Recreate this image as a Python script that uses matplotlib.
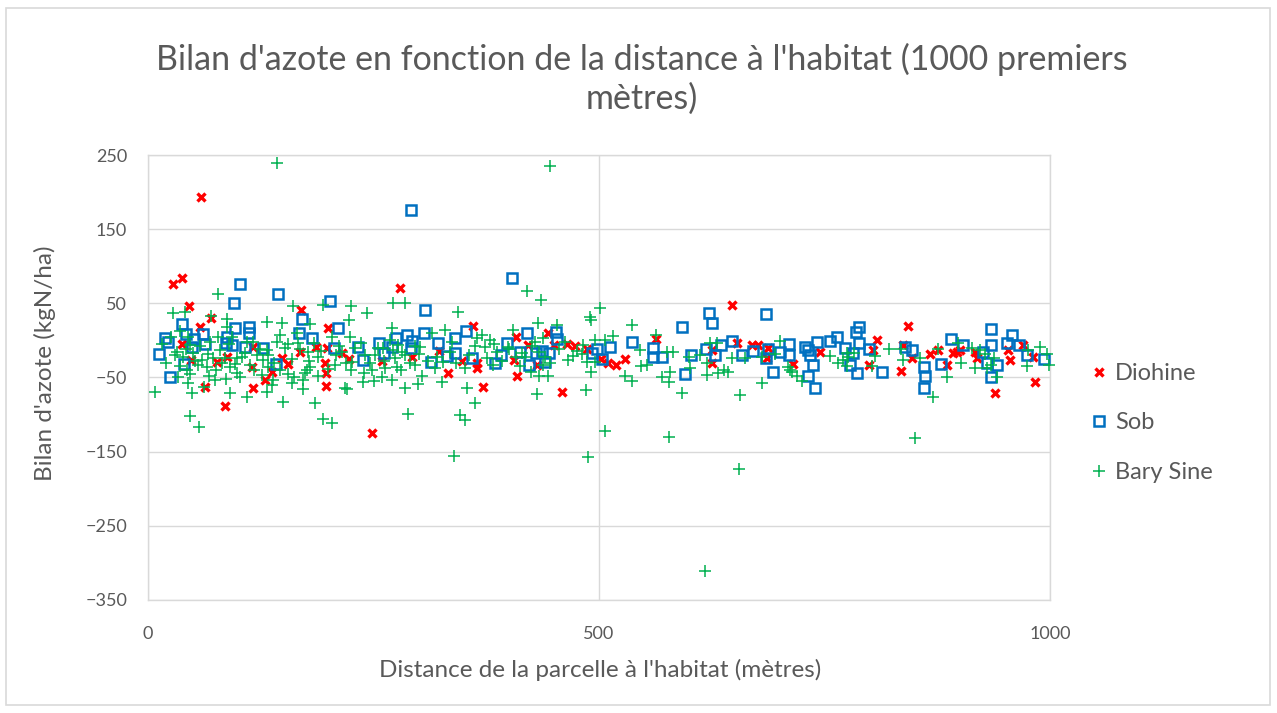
import matplotlib
matplotlib.use("Agg")
import matplotlib.pyplot as plt
from matplotlib.patches import Rectangle

plt.rcParams['font.family'] = ['Lato', 'DejaVu Sans']

title = "Bilan d'azote en fonction de la distance à l'habitat (1000 premiers\nmètres)"
xlabel = "Distance de la parcelle à l'habitat (mètres)"
ylabel = "Bilan d'azote (kgN/ha)"
series_names = ["Diohine", "Sob", "Bary Sine"]
xticks = [0, 500, 1000]
yticks = [250, 150, 50, -50, -150, -250, -350]

diohine = [(28,76),(38,84),(59,193),(46,47),(70,30),(58,18),(38,-5),(48,-26),(63,-63),(85,-88),
           (116,-64),(130,-53),(115,-36),(116,-9),(77,-29),(88,-22),
           (170,41),(200,17),(186,-9),(169,-16),(155,-32),(149,-24),(138,-43),(196,-30),(197,-44),
           (197,-61),(215,-17),(223,-25),(259,-28),(248,-125),(198,-10),
           (279,71),(360,20),(323,-14),(293,-22),(333,-44),(348,-28),(365,-30),(365,-37),(371,-63),
           (406,-26),(409,-48),(408,5),
           (421,-6),(431,-33),(444,10),(450,-6),(465,-5),(473,-7),(487,-12),(502,-25),(510,-30),
           (519,-33),(529,-25),(459,-69),
           (648,48),(563,2),(625,-13),(625,-30),(653,-3),(670,-6),(676,-6),(687,-10),(686,-24),
           (715,-32),(745,-16),
           (808,1),(799,-33),(843,20),(835,-41),(837,-6),(847,-24),(867,-18),(876,-13),(886,-33),
           (893,-17),(897,-16),(900,-13),(917,-16),(919,-24),(939,-71),(956,-26),(953,-13),(970,-6),
           (983,-56),(981,-22),(804,-13)]
diohine_x = [p[0] for p in diohine]
diohine_y = [p[1] for p in diohine]

sob = [(102,76),(95,50),(38,22),(42,9),(19,3),(22,-2),(12,-18),(24,-50),(40,-32),(51,2),(61,9),
       (63,-5),(49,-9),(96,17),(112,18),(112,10),(88,5),(86,-3),(93,-6),(108,-9),(127,-10),
       (144,63),(142,-32),(171,29),(202,53),(211,17),(167,10),(182,3),(206,-10),(233,-9),(238,-26),
       (256,-3),(262,-17),(271,-9),(275,3),
       (292,176),(307,41),(287,7),(293,-1),(292,-10),(306,10),(321,-3),(314,-29),(331,-21),(340,-17),
       (340,3),(353,13),(359,-24),(385,-30),(391,-20),(398,-3),(404,84),(412,-16),
       (420,10),(422,-33),(430,-17),(437,-14),(440,-29),(445,-17),(452,12),(453,2),(492,-17),
       (498,-12),(503,-25),(512,-9),(537,-2),
       (560,-10),(560,-22),(570,-22),(592,18),(595,-45),(602,-20),(622,37),(625,24),(619,-12),
       (629,-20),(635,-6),(647,-1),(659,-20),(671,-14),(685,36),(687,-12),(685,-24),
       (701,-16),(693,-43),(711,-5),(711,-20),(728,-9),(732,-13),(734,-20),(742,-2),(737,-33),
       (732,-48),(739,-64),(756,-1),(764,5),(773,-10),(778,-33),(782,-17),(786,-44),(785,12),
       (788,18),(788,-3),
       (799,-12),(814,-42),(839,-9),(847,-13),(860,-36),(861,-48),(860,-64),(879,-32),(890,2),
       (904,-6),(935,16),(935,-6),(926,-16),(930,-30),(935,-49),(941,-33),(952,-3),(958,7),
       (966,-6),(974,-20),(993,-25)]
sob_x = [p[0] for p in sob]
sob_y = [p[1] for p in sob]

bary = [(143,239),(78,63),(28,37),(41,38),(70,33),(161,46),(194,48),(225,46),(243,37),(132,25),
        (149,24),(180,22),(223,28),(88,29),(88,18),
        (8,-69),(47,-102),(57,-117),(49,-71),(44,-57),(62,-63),(74,-53),(86,-52),(91,-71),(102,-50),
        (110,-76),(132,-69),(150,-83),(162,-49),(172,-66),(185,-84),(194,-106),(204,-111),(221,-66),
        (238,-56),(176,-40),(139,-53),
        (36,13),(47,-6),(32,-15),(39,-22),(50,-17),(43,-40),(55,-33),(60,-26),(65,-36),(72,-24),
        (80,-13),(78,5),(85,-24),(91,-36),(99,-24),(108,-17),(113,-33),(121,-20),(127,-26),(132,-13),
        (133,-36),(116,-2),(93,4),(69,-2),(44,5),
        (272,51),(146,7),(143,-2),(152,-10),(165,10),(166,-3),(177,-16),(188,-22),(180,-36),(174,-44),
        (172,-53),(218,-64),(248,-40),(259,-49),(270,-53),(204,5),(215,-16),(224,5),(226,-29),
        (207,-33),(241,-20),(252,-20),(263,-37),(270,17),(272,-13),(133,-20),
        (285,50),(344,38),(277,-6),(285,-20),(274,-24),(276,-36),(285,-64),(299,-59),(304,-48),
        (296,-33),(302,-9),(315,10),(329,14),(337,-2),(327,-29),(318,-37),(326,-56),(351,-37),
        (354,-64),(363,-84),(346,-100),(351,-107),(288,-99),(370,7),(379,1),(365,3),(374,-9),
        (387,-16),(382,-33),(399,-9),(405,14),(408,-22),
        (420,67),(436,55),(490,32),(491,27),(501,44),(432,24),(453,21),(496,1),(507,1),(515,6),
        (537,21),(545,-13),(547,-34),(529,-48),(537,-55),(491,-43),(486,-67),(431,-72),(433,-48),
        (443,-48),(429,-2),(438,3),(440,-22),(438,-33),(466,-26),(471,-21),(481,-18),(487,-29),
        (496,-29),(415,-17),(425,-43),(507,-122),(446,235),
        (563,7),(553,-33),(570,-49),(579,-43),(578,-56),(592,-71),(575,-16),(582,-16),(600,-22),
        (601,-37),(612,-20),(620,-30),(620,-47),(623,-3),(631,-3),(632,-44),(639,-40),(643,-43),
        (647,-24),(656,-73),(662,-24),(681,-22),(681,-57),(701,-1),(695,-18),(712,-40),(725,-55),
        (756,-21),(765,-30),(775,-34),(775,-17),(578,-130),
        (710,-36),(714,-42),(719,-48),(776,-22),(783,-17),(806,-21),(803,-34),(822,-12),(835,-12),
        (837,-26),(850,-131),
        (870,-76),(886,-49),(901,-30),(917,-37),(928,-18),(938,-24),(941,-49),(930,-37),(935,-33),
        (974,-34),(989,-9),(997,-18),(999,-33),(771,-26),(856,-24),(876,-12),(898,-3),(913,-10),
        (922,-13),(976,-13),
        (339,-156),(488,-157),(655,-173),(617,-311),
        (30,-20),(35,-35),(42,-12),(52,-28),(58,-8),(66,-18),(75,-40),(82,-30),(90,-5),(96,-32),
        (104,-22),(110,-2),(118,-40),(124,-12),(140,-30),(146,-40),(155,-5),(160,-25),(168,-12),
        (184,-4),(192,-14),(200,-38),(208,-20),(212,-8),(220,-30),(230,-10),(236,-4),(246,-30),
        (255,-10),(262,-28),(268,0),(282,-15),(290,-30),(300,-18),(310,-28),(320,-22),(335,-15),
        (342,-30),(356,-20),(362,-8),(376,-24),(384,-5),(392,-28),(400,-12),(412,-35),(418,-22),
        (426,-8),(434,-16),(446,-30),(456,-12),(462,-2),(476,-14),(482,-6),(20,-30),(15,-5),(25,5),
        (33,-50),(47,-45),(68,-48),(99,-44),(126,-46),(138,-60),(155,-45),(160,-58),(178,-28),
        (188,-48),(225,-40),(240,-44),(250,-55),(260,-10),(280,-40),(296,-8)]
bary_x = [p[0] for p in bary]
bary_y = [p[1] for p in bary]

TXT = '#595959'
GRID = '#d9d9d9'

fig = plt.figure(figsize=(12.77, 7.13), dpi=100)
fig.patches.append(Rectangle((6/1277, 8/713), 1264/1277, 697/713, transform=fig.transFigure,
                             fill=False, edgecolor='#d9d9d9', linewidth=1.2))
ax = fig.add_axes([148/1277, 1-600/713, (1050-148)/1277, (600-155)/713])

ax.plot(diohine_x, diohine_y, ls='none', marker='x', markersize=5.5, markeredgewidth=2.4,
        color='#ff0000', label=series_names[0], clip_on=False, zorder=3)
ax.plot(sob_x, sob_y, ls='none', marker='s', markersize=6.5, markeredgewidth=1.8,
        markerfacecolor='none', markeredgecolor='#0070c0', label=series_names[1], clip_on=False, zorder=4)
ax.plot(bary_x, bary_y, ls='none', marker='+', markersize=8, markeredgewidth=1.1,
        color='#00b050', label=series_names[2], clip_on=False, zorder=5)

ax.set_xlim(0, 1000)
ax.set_ylim(-350, 250)
ax.set_xticks(xticks)
ax.set_yticks(yticks)
ax.grid(True, color=GRID, linewidth=1.0)
ax.set_axisbelow(True)
for s in ax.spines.values():
    s.set_color(GRID)
    s.set_linewidth(1.0)
ax.tick_params(length=0, labelsize=13, colors=TXT)
ax.tick_params(axis='y', pad=15)
ax.tick_params(axis='x', pad=19)

fig.text(642/1277, 1-79/713, title, ha='center', va='center', fontsize=24.5, color=TXT,
         linespacing=1.25)
fig.text(600/1277, 1-670/713, xlabel, ha='center', va='center', fontsize=17.5, color=TXT)
fig.text(45/1277, 1-363/713, ylabel, ha='center', va='center', fontsize=17.5, color=TXT, rotation=90)

fig.legend(loc='center left', bbox_to_anchor=(1090/1277, 1-423/713), frameon=False,
           fontsize=17, labelcolor=TXT, handlelength=0.8, handletextpad=0.25, labelspacing=1.2,
           borderaxespad=0, borderpad=0)

fig.savefig('out.png', dpi=100)
